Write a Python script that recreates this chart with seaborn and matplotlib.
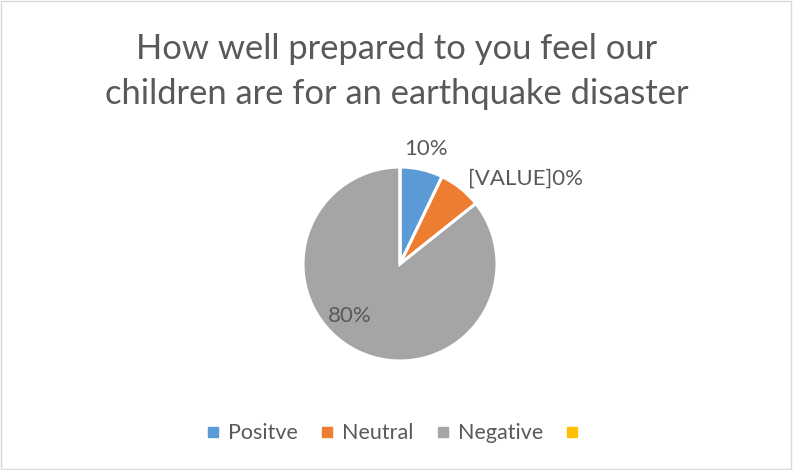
import numpy as np
import matplotlib
matplotlib.use('Agg')
import matplotlib.pyplot as plt
import seaborn as sns
from matplotlib.patches import Rectangle
from matplotlib.lines import Line2D

# Data
categories = ['Positve', 'Neutral', 'Negative', '']
values = [1, 1, 12, 0]
label_texts = ['10%', '[VALUE]0%', '80%', '']
title = 'How well prepared to you feel our\nchildren are for an earthquake disaster'

sns.set_theme(style='white')
plt.rcParams['font.family'] = ['Lato', 'DejaVu Sans']
colors = sns.color_palette(['#5B9BD5', '#ED7D31', '#A5A5A5', '#FFC000'])
text_color = '#595959'

fig = plt.figure(figsize=(7.93, 4.70), dpi=100)
ax = fig.add_axes([303 / 793, 109 / 470, 194 / 793, 194 / 470])

wedges, _ = ax.pie(values, colors=colors, startangle=90, counterclock=False,
                   wedgeprops=dict(edgecolor='white', linewidth=2.2))
ax.set_xlim(-1, 1)
ax.set_ylim(-1, 1)
ax.set_aspect('equal')
ax.axis('off')

# data labels (Excel style placement)
label_pos = [(1.22, 'center'), (1.13, 'left'), (0.74, 'center')]
for w, txt, (dist, ha) in zip(wedges, label_texts, label_pos):
    ang = np.deg2rad((w.theta1 + w.theta2) / 2)
    if txt == '80%':
        ang = np.deg2rad(-134)
    ax.text(dist * np.cos(ang), dist * np.sin(ang), txt, ha=ha, va='center',
            fontsize=16, color=text_color)

fig.text(0.5, 0.848, title, ha='center', va='center', fontsize=24.8,
         color=text_color, linespacing=1.5)

handles = [Line2D([], [], marker='s', linestyle='none', markersize=7,
                  markerfacecolor=c, markeredgecolor=c) for c in colors]
fig.legend(handles, categories, loc='center', bbox_to_anchor=(0.5, 0.078),
           ncol=4, frameon=False, fontsize=15.5, labelcolor=text_color,
           handlelength=0.7, handletextpad=0.35, columnspacing=1.0)

fig.patches.append(Rectangle((0.001, 0.002), 0.997, 0.996, transform=fig.transFigure,
                             fill=False, edgecolor='#D9D9D9', linewidth=1))

fig.savefig('out.png', dpi=100)
